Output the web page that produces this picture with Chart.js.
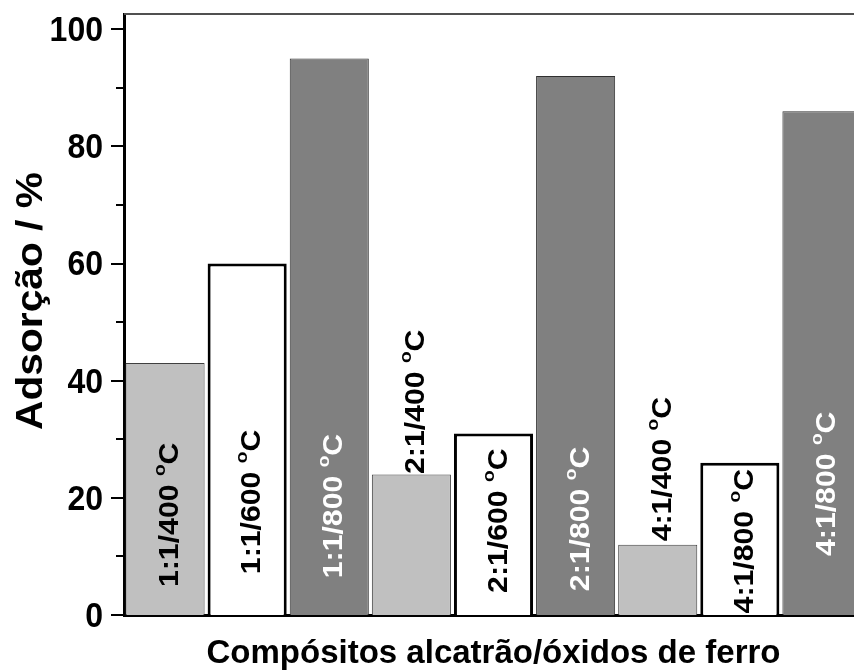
<!DOCTYPE html>
<html>
<head>
<meta charset="utf-8">
<script src="https://cdn.jsdelivr.net/npm/chart.js@4.4.1/dist/chart.umd.min.js"></script>
<style>
  html, body { margin: 0; padding: 0; background: #fff; overflow: hidden; }
  canvas { display: block; }
</style>
</head>
<body>
<canvas id="chart" width="863" height="671"></canvas>
<script>
// categories (composite ratio / temperature) as printed on the bars
const categories = ['1:1/400', '1:1/600', '1:1/800', '2:1/400', '2:1/600', '2:1/800', '4:1/400', '4:1/800', '4:1/800'];
// adsorption, %
const adsorption = [43, 60, 95, 24, 31, 92, 12, 26, 86];
// where the middle of each bar label sits, in % units
const labelCenters = [17.1, 19.3, 18.6, 36.4, 16.1, 16.4, 24.9, 12.6, 22.4];
// y axis
const yMajorTicks = [0, 20, 40, 60, 80, 100];
const yMinorTicks = [10, 30, 50, 70, 90];
const yMax = 102.6;

const FONT = 'Arial, "Liberation Sans", sans-serif';
const STRETCH = 1.12;   // glyphs in the original are a little tall

// 0 = light grey, 1 = white, 2 = dark grey
const barKind = [0, 1, 2, 0, 1, 2, 0, 1, 2];
const fillColors = ['#c0c0c0', '#ffffff', '#808080'];
const edgeColors = ['#404040', '#000000', '#303030'];
const edgeWidths = [1, 3, 1];
const textColors = ['#000000', '#000000', '#ffffff'];

const frameAndLabels = {
    id: 'frameAndLabels',
    afterDatasetsDraw(chart) {
        const ctx = chart.ctx;
        const area = chart.chartArea;
        const y = chart.scales.y;
        const meta = chart.getDatasetMeta(0);

        ctx.save();
        // top frame line
        ctx.strokeStyle = '#505050';
        ctx.lineWidth = 2;
        ctx.beginPath();
        ctx.moveTo(area.left, area.top);
        ctx.lineTo(area.right, area.top);
        ctx.stroke();

        // y ticks, outward
        ctx.strokeStyle = '#000';
        ctx.lineWidth = 2;
        yMajorTicks.forEach(v => {
            const py = Math.round(y.getPixelForValue(v));
            ctx.beginPath();
            ctx.moveTo(area.left - 13, py);
            ctx.lineTo(area.left, py);
            ctx.stroke();
        });
        yMinorTicks.forEach(v => {
            const py = Math.round(y.getPixelForValue(v));
            ctx.beginPath();
            ctx.moveTo(area.left - 8, py);
            ctx.lineTo(area.left, py);
            ctx.stroke();
        });

        // y tick labels
        ctx.fillStyle = '#000';
        ctx.font = 'bold 32px ' + FONT;
        ctx.textAlign = 'right';
        ctx.textBaseline = 'alphabetic';
        y.ticks.forEach(t => {
            ctx.save();
            ctx.translate(103, y.getPixelForValue(t.value) - 1);
            ctx.scale(1, STRETCH);
            ctx.fillText(String(t.value), 0, 11.5);
            ctx.restore();
        });

        // rotated bar labels: "1:1/400 °C" with superscript o
        const big = 'bold 27px ' + FONT;
        const small = 'bold 17px ' + FONT;
        meta.data.forEach((bar, i) => {
            const main = categories[i] + ' ';
            ctx.font = big;
            const wMain = ctx.measureText(main).width;
            const wC = ctx.measureText('C').width;
            ctx.font = small;
            const wO = ctx.measureText('o').width;
            const total = wMain + wO + wC;

            ctx.save();
            ctx.translate(bar.x, y.getPixelForValue(labelCenters[i]));
            ctx.rotate(-Math.PI / 2);
            ctx.scale(STRETCH, 1);
            ctx.fillStyle = textColors[barKind[i]];
            ctx.textBaseline = 'alphabetic';
            ctx.textAlign = 'left';
            let x0 = -total / 2;
            const base = 13;
            ctx.font = big;
            ctx.fillText(main, x0, base);
            x0 += wMain;
            ctx.font = small;
            ctx.fillText('o', x0, base - 13);
            x0 += wO;
            ctx.font = big;
            ctx.fillText('C', x0, base);
            ctx.restore();
        });

        // axis titles
        ctx.fillStyle = '#000';
        ctx.textAlign = 'center';
        ctx.textBaseline = 'alphabetic';
        ctx.font = 'bold 33px ' + FONT;
        ctx.fillText('Compósitos alcatrão/óxidos de ferro', (area.left + area.right) / 2, 663);

        ctx.save();
        ctx.translate(42, 301);
        ctx.rotate(-Math.PI / 2);
        ctx.scale(1.1, 1);
        ctx.font = 'bold 37px ' + FONT;
        ctx.fillText('Adsorção / %', 0, 0);
        ctx.restore();

        ctx.restore();
    }
};

new Chart(document.getElementById('chart').getContext('2d'), {
    type: 'bar',
    data: {
        labels: categories,
        datasets: [{
            data: adsorption,
            backgroundColor: barKind.map(k => fillColors[k]),
            borderColor: barKind.map(k => edgeColors[k]),
            borderWidth: barKind.map(k => edgeWidths[k]),
            barPercentage: 0.963,
            categoryPercentage: 1.0
        }]
    },
    options: {
        responsive: false,
        devicePixelRatio: 1,
        animation: false,
        layout: { padding: { top: 14, left: 0, right: 0, bottom: 0 } },
        plugins: {
            legend: { display: false },
            tooltip: { enabled: false }
        },
        scales: {
            x: {
                grid: { display: false, drawTicks: false },
                border: { display: true, color: '#000', width: 3 },
                ticks: { display: false },
                afterFit: s => { s.height = 56; }
            },
            y: {
                min: 0,
                max: yMax,
                grid: { display: false, drawTicks: false },
                border: { display: true, color: '#000', width: 3 },
                afterBuildTicks: s => { s.ticks = yMajorTicks.map(v => ({ value: v })); },
                ticks: { display: false },
                afterFit: s => {
                    s.width = 124;
                    s.paddingTop = 0;
                    s.paddingBottom = 0;
                }
            }
        }
    },
    plugins: [frameAndLabels]
});
</script>
</body>
</html>
